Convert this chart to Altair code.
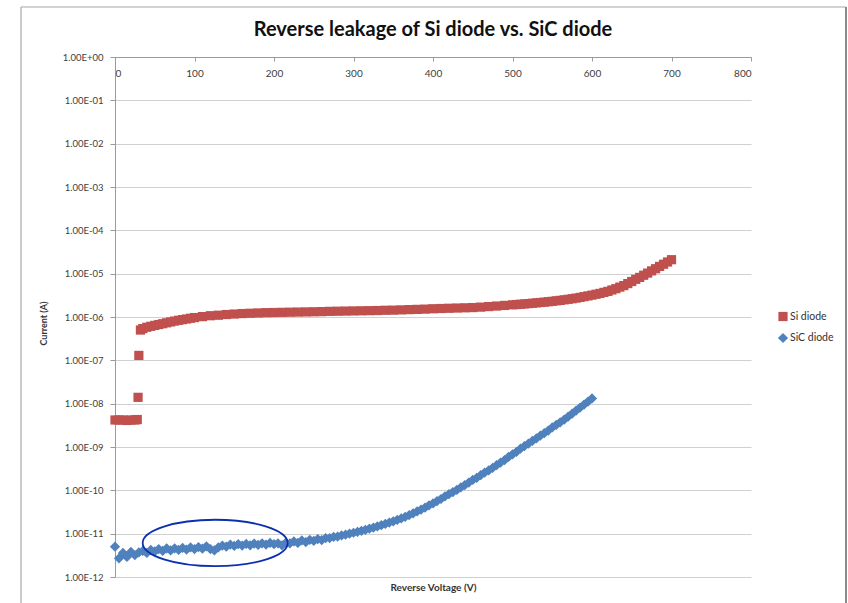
import altair as alt
import pandas as pd

# Si diode sweep: reverse voltage (V) and leakage current (A)
si_volts = [0, 5, 10, 15, 20, 25, 28, 29, 30, 32, 35, 40, 45, 50, 55, 60, 65, 70, 75,
            80, 85, 90, 95, 100, 110, 120, 130, 140, 150, 160, 170, 180, 190, 200,
            210, 220, 230, 240, 250, 260, 270, 280, 290, 300, 310, 320, 330, 340,
            350, 360, 370, 380, 390, 400, 410, 420, 430, 440, 450, 460, 470, 480,
            490, 500, 505, 510, 515, 520, 525, 530, 535, 540, 545, 550, 555, 560,
            565, 570, 575, 580, 585, 590, 595, 600, 605, 610, 615, 620, 625, 630,
            635, 640, 645, 650, 655, 660, 665, 670, 675, 680, 685, 690, 695, 700]
si_amps = [4.2e-9, 4.2e-9, 4.2e-9, 4.1e-9, 4.2e-9, 4.2e-9, 4.3e-9, 1.4e-8, 1.3e-7,
           5.0e-7, 5.4e-7, 5.8e-7, 6.1e-7, 6.4e-7, 6.7e-7, 7.0e-7, 7.35e-7, 7.7e-7,
           8.05e-7, 8.4e-7, 8.7e-7, 9.0e-7, 9.35e-7, 9.7e-7,
           1.02e-6, 1.07e-6, 1.10e-6, 1.14e-6, 1.17e-6, 1.20e-6, 1.22e-6, 1.24e-6,
           1.26e-6, 1.27e-6, 1.28e-6, 1.29e-6, 1.30e-6, 1.31e-6, 1.32e-6, 1.33e-6,
           1.35e-6, 1.36e-6, 1.37e-6, 1.38e-6, 1.39e-6, 1.40e-6, 1.41e-6, 1.43e-6,
           1.44e-6, 1.46e-6, 1.48e-6, 1.50e-6, 1.52e-6, 1.55e-6, 1.57e-6, 1.59e-6,
           1.61e-6, 1.63e-6, 1.65e-6, 1.69e-6, 1.74e-6, 1.79e-6, 1.85e-6,
           1.91e-6, 1.94e-6, 1.97e-6, 2.00e-6, 2.04e-6, 2.08e-6, 2.12e-6, 2.16e-6,
           2.20e-6, 2.25e-6, 2.30e-6, 2.36e-6, 2.42e-6, 2.49e-6, 2.56e-6, 2.64e-6,
           2.73e-6, 2.83e-6, 2.95e-6, 3.07e-6, 3.2e-6, 3.35e-6, 3.5e-6, 3.7e-6,
           3.9e-6, 4.2e-6, 4.5e-6, 4.9e-6, 5.3e-6, 5.9e-6, 6.6e-6, 7.4e-6, 8.2e-6,
           9.2e-6, 1.03e-5, 1.16e-5, 1.3e-5, 1.47e-5, 1.65e-5, 1.86e-5, 2.1e-5]

# SiC diode sweep
sic_volts = [0, 5, 10, 15, 20, 25, 30, 35, 40, 45, 50, 55, 60, 65, 70, 75, 80, 85,
             90, 95, 100, 105, 110, 115, 120, 125, 130, 135, 140, 145, 150, 155,
             160, 165, 170, 175, 180, 185, 190, 195, 200, 205, 210, 215, 220, 225,
             230, 235, 240, 245, 250, 255, 260, 265, 270, 275, 280, 285, 290, 295,
             300, 305, 310, 315, 320, 325, 330, 335, 340, 345, 350, 355, 360, 365,
             370, 375, 380, 385, 390, 395, 400, 405, 410, 415, 420, 425, 430, 435,
             440, 445, 450, 455, 460, 465, 470, 475, 480, 485, 490, 495, 500, 505,
             510, 515, 520, 525, 530, 535, 540, 545, 550, 555, 560, 565, 570, 575,
             580, 585, 590, 595, 600]
sic_amps = [5.0e-12, 2.7e-12, 3.6e-12, 2.9e-12, 3.8e-12, 3.2e-12, 3.7e-12, 4.0e-12,
            3.6e-12, 4.2e-12, 3.9e-12, 4.4e-12, 4.0e-12, 4.6e-12, 4.1e-12, 4.6e-12,
            4.2e-12, 4.7e-12, 4.3e-12, 4.8e-12, 4.4e-12, 4.9e-12, 4.5e-12, 5.1e-12,
            4.4e-12, 4.1e-12, 4.8e-12, 5.3e-12, 5.0e-12, 5.6e-12, 5.2e-12, 5.7e-12,
            5.3e-12, 5.8e-12, 5.4e-12, 5.9e-12, 5.5e-12, 6.0e-12, 5.6e-12, 6.1e-12,
            5.7e-12, 6.0e-12, 5.4e-12, 6.2e-12, 6.0e-12, 6.6e-12, 6.1e-12, 7.0e-12,
            6.4e-12, 7.2e-12, 6.8e-12, 7.5e-12, 7.1e-12, 7.9e-12, 7.9e-12, 8.4e-12,
            8.6e-12, 9.1e-12, 9.5e-12, 1.0e-11, 1.05e-11, 1.1e-11, 1.16e-11, 1.23e-11,
            1.3e-11, 1.38e-11, 1.47e-11, 1.57e-11, 1.68e-11, 1.8e-11, 1.93e-11,
            2.08e-11, 2.25e-11, 2.45e-11, 2.68e-11, 2.95e-11, 3.25e-11, 3.6e-11,
            4.0e-11, 4.5e-11, 5.0e-11, 5.62e-11, 6.31e-11, 7.24e-11, 8.13e-11,
            9.12e-11, 1.02e-10, 1.17e-10, 1.32e-10, 1.51e-10, 1.74e-10, 1.95e-10,
            2.24e-10, 2.57e-10, 2.88e-10, 3.31e-10, 3.80e-10, 4.37e-10, 5.01e-10,
            5.89e-10, 6.76e-10, 7.76e-10, 9.12e-10, 1.05e-9, 1.20e-9, 1.38e-9,
            1.58e-9, 1.82e-9, 2.09e-9, 2.40e-9, 2.82e-9, 3.24e-9, 3.72e-9, 4.27e-9,
            5.01e-9, 5.89e-9, 6.92e-9, 8.13e-9, 9.55e-9, 1.12e-8, 1.32e-8]

series_names = ["Si diode", "SiC diode"]
series_colors = ["#C0504D", "#4F81BD"]
series_shapes = ["square", "diamond"]
series_sizes = [85, 105]

x_ticks = [0, 100, 200, 300, 400, 500, 600, 700, 800]
y_ticks = [1e-12, 1e-11, 1e-10, 1e-9, 1e-8, 1e-7, 1e-6, 1e-5, 1e-4, 1e-3, 1e-2, 1e-1, 1e0]

# flat region of the SiC curve that is circled
highlight = {"V": [126], "I": [6.1e-12]}

W, H = 636, 520
PAD = {"left": 115, "top": 57, "right": 97, "bottom": 26}

df = pd.concat([
    pd.DataFrame({"V": si_volts, "I": si_amps, "series": series_names[0]}),
    pd.DataFrame({"V": sic_volts, "I": sic_amps, "series": series_names[1]}),
], ignore_index=True)

exp_expr = "round(log(datum.value)/LN10)"
y_label_expr = ("'1.00E' + (" + exp_expr + " < 0 ? '-' : '+') + (abs(" + exp_expr +
                ") < 10 ? '0' : '') + abs(" + exp_expr + ")")

x_enc = alt.X("V:Q",
              scale=alt.Scale(domain=[0, 800], nice=False),
              axis=alt.Axis(orient="bottom", offset=-H, values=x_ticks,
                            grid=False, tickSize=4, labelPadding=7,
                            tickColor="#9a9a9a", domainColor="#9a9a9a",
                            labelFontSize=10, labelColor="#404040",
                            title="Reverse Voltage (V)", titleFontSize=10,
                            titleFontWeight="bold", titleColor="#333333",
                            titleX=W / 2, titleY=H + 10, titleBaseline="middle",
                            titleAlign="center"))
y_enc = alt.Y("I:Q",
              scale=alt.Scale(type="log", domain=[1e-12, 1], nice=False),
              axis=alt.Axis(values=y_ticks, labelExpr=y_label_expr,
                            grid=True, gridColor="#d0d0d0", gridWidth=1.2,
                            tickSize=5, labelPadding=7, tickColor="#9a9a9a",
                            domainColor="#9a9a9a", labelFontSize=9.5,
                            labelColor="#404040", title="Current (A)",
                            titleFontSize=9, titleFontWeight="bold",
                            titleColor="#333333", titleX=-72, titleY=266,
                            titleAngle=270, titleBaseline="middle",
                            titleAlign="center"))

points = alt.Chart(df).mark_point(filled=True, opacity=1).encode(
    x=x_enc,
    y=y_enc,
    color=alt.Color("series:N",
                    scale=alt.Scale(domain=series_names, range=series_colors),
                    legend=alt.Legend(title=None, orient="none", legendX=662,
                                      legendY=254, labelFontSize=10.5,
                                      labelColor="#333333", symbolSize=50,
                                      rowPadding=10, labelOffset=1, padding=0)),
    shape=alt.Shape("series:N",
                    scale=alt.Scale(domain=series_names, range=series_shapes)),
    size=alt.Size("series:N",
                  scale=alt.Scale(domain=series_names, range=series_sizes),
                  legend=None),
)

ellipse_path = ("M -1 0 C -1 -0.1767 -0.5523 -0.32 0 -0.32 "
                "C 0.5523 -0.32 1 -0.1767 1 0 "
                "C 1 0.1767 0.5523 0.32 0 0.32 "
                "C -0.5523 0.32 -1 0.1767 -1 0 Z")
ring = alt.Chart(pd.DataFrame(highlight)).mark_point(
    shape=ellipse_path, size=145 ** 2, filled=False, color="#0B2FB0",
    strokeWidth=1.8, opacity=1,
).encode(x=alt.X("V:Q"), y=alt.Y("I:Q"))

# outer chart frame
one = alt.Data(values=[{}])
frame_left = alt.Chart(one).mark_rule(color="#a8a8a8", strokeWidth=1.2).encode(
    x=alt.value(-94), y=alt.value(-50), y2=alt.value(H + PAD["bottom"]))
frame_top = alt.Chart(one).mark_rule(color="#a8a8a8", strokeWidth=1.2).encode(
    x=alt.value(-94), x2=alt.value(731), y=alt.value(-50))
frame_right = alt.Chart(one).mark_rule(color="#8a8a8a", strokeWidth=2).encode(
    x=alt.value(731), y=alt.value(-50), y2=alt.value(H + PAD["bottom"]))

chart = alt.layer(frame_left, frame_top, frame_right, points, ring).properties(
    width=W, height=H,
    autosize=alt.AutoSizeParams(type="none"),
    padding=PAD,
    background="white",
    title=alt.TitleParams("Reverse leakage of Si diode vs. SiC diode",
                          font="Lato", fontSize=20, fontWeight="bold",
                          color="#111111", anchor="middle", offset=-34),
).configure(font="Lato").configure_view(stroke=None)

chart.save("out.html", embed_options={"renderer": "svg", "actions": False})
